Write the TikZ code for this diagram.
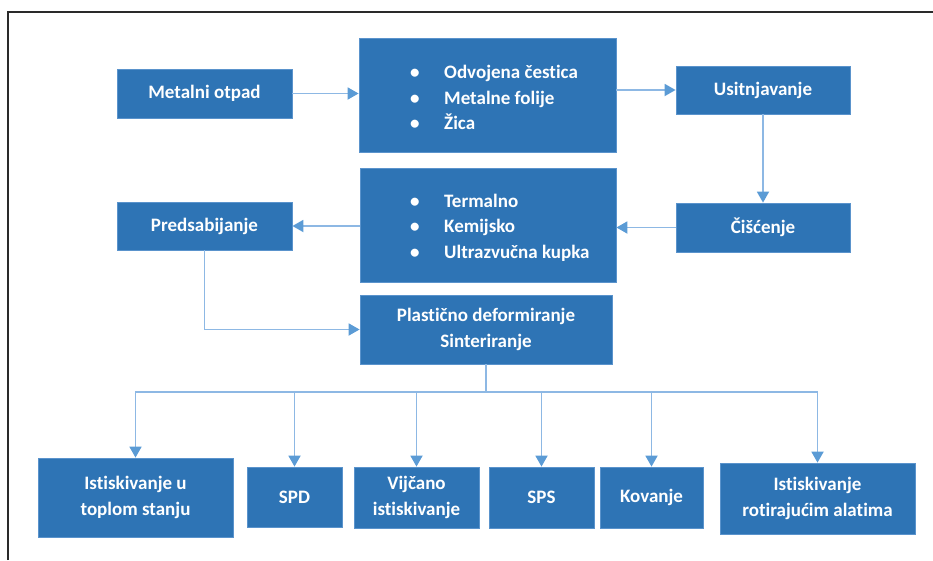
\documentclass[tikz,border=0pt]{standalone}
\usepackage{fontspec}
\setmainfont{Carlito}[Ligatures=NoCommon]
\usetikzlibrary{arrows.meta}
\definecolor{boxblue}{HTML}{2E74B5}
\definecolor{boxedge}{HTML}{5A93CC}
\definecolor{arrblue}{HTML}{8DB8E4}
\definecolor{arrhead}{HTML}{5B9BD5}
\definecolor{framecol}{HTML}{2A2A2A}
\tikzset{
  box/.style={draw=boxedge, line width=0.8pt, fill=boxblue, text=white,
    font=\bfseries\fontsize{19}{26}\selectfont, inner sep=0pt, align=center},
  listtext/.style={text=white, font=\bfseries\fontsize{19}{25.5}\selectfont,
    inner sep=0pt, align=left, anchor=west},
  arr/.style={draw=arrblue, line width=1.8pt, -{Triangle[length=11pt,width=12pt,color=arrhead]}},
  frameline/.style={draw=framecol, line width=1.6pt}
}
\newcommand{\bul}[1]{\makebox[34pt][l]{\textbullet}#1}
\begin{document}
\begin{tikzpicture}[x=1pt,y=-1pt]
\useasboundingbox (0,0) rectangle (933,560);
\draw[frameline] (8,560) -- (8,12) -- (933,12);

% top row
\node[box, minimum width=175pt, minimum height=49pt] (metal) at (204.5,93.5) {Metalni otpad};
\node[box, minimum width=257pt, minimum height=114pt] (list1) at (487.5,95) {};
\node[listtext] (l1text) at (410,97.5) {\bul{Odvojena čestica}\\\bul{Metalne folije}\\\bul{Žica}};
\node[box, minimum width=174pt, minimum height=48pt] (usit) at (763,90) {Usitnjavanje};

% second row
\node[box, minimum width=174pt, minimum height=49pt] (cisc) at (763,227.5) {Čišćenje};
\node[box, minimum width=256pt, minimum height=114pt] (list2) at (488,225) {};
\node[listtext] (l2text) at (410,227.5) {\bul{Termalno}\\\bul{Kemijsko}\\\bul{Ultrazvučna kupka}};
\node[box, minimum width=175pt, minimum height=48pt] (pred) at (204.5,226) {Predsabijanje};

% third row
\node[box, minimum width=252pt, minimum height=69pt] (plast) at (486,329.5) {Plastično deformiranje\\Sinteriranje};

% bottom row
\node[box, minimum width=195pt, minimum height=79pt] (b1) at (135.5,497.5) {Istiskivanje u\\toplom stanju};
\node[box, minimum width=95pt, minimum height=60pt] (b2) at (294.5,497) {SPD};
\node[box, minimum width=125pt, minimum height=61pt] (b3) at (416.5,497.5) {Vijčano\\istiskivanje};
\node[box, minimum width=105pt, minimum height=61pt] (b4) at (541.5,497.5) {SPS};
\node[box, minimum width=103pt, minimum height=61pt] (b5) at (651.5,497.5) {Kovanje};
\node[box, minimum width=195pt, minimum height=71pt] (b6) at (817.5,498.5) {Istiskivanje\\rotirajućim alatima};

% connectors
\draw[arr] (metal.east) -- (metal.east -| list1.west);
\draw[arr] (list1.east |- usit.west) -- (usit.west);
\draw[arr] (usit.south) -- (cisc.north);
\draw[arr] (cisc.west) -- (cisc.west -| list2.east);
\draw[arr] (list2.west |- pred.east) -- (pred.east);
\draw[arr] (pred.south) |- (plast.west);

\coordinate (bus) at (486,392);
\foreach \b in {b1,b2,b3,b4,b5,b6}{
  \draw[arr] (plast.south) -- (bus) -| (\b.north);
}
\end{tikzpicture}
\end{document}
